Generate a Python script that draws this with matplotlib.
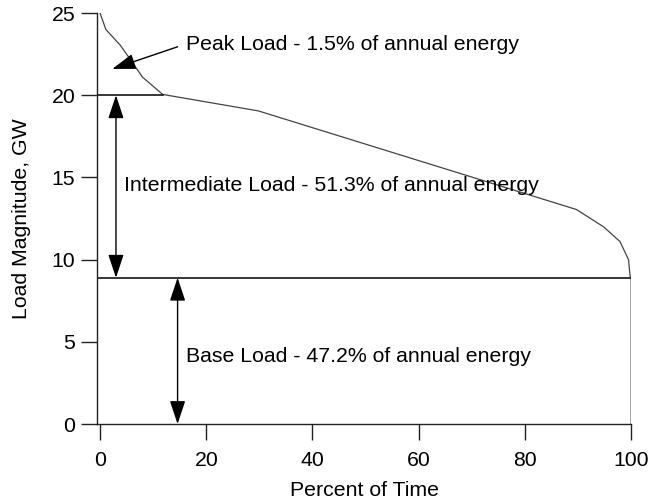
import matplotlib
matplotlib.use("Agg")
import matplotlib.pyplot as plt

plt.rcParams['font.family'] = ['Liberation Sans', 'DejaVu Sans']

# load duration curve
pct_time = [0, 1.1, 3.8, 5.0, 8.0, 11.8, 29.8, 89.7, 94.8, 97.9, 99.5, 99.8, 100, 100]
load_gw = [25, 24.0, 23.05, 22.5, 21.1, 20.05, 19.05, 13.05, 12.0, 11.1, 10.0, 9.0, 8.9, 0]

peak_level = 20.0
base_level = 8.9
peak_end = 11.8

labels = ['Peak Load - 1.5% of annual energy',
          'Intermediate Load - 51.3% of annual energy',
          'Base Load - 47.2% of annual energy']

fs = 15.3

fig = plt.figure(figsize=(6.5, 5.03), dpi=100)
ax = fig.add_axes([0.149, 0.157, 0.822, 0.817])

ax.plot(pct_time, load_gw, color='#444444', lw=0.9)
ax.plot([-0.6, peak_end], [peak_level, peak_level], color='black', lw=1.1)
ax.plot([-0.6, 100], [base_level, base_level], color='black', lw=1.1)

ax.set_xlim(-0.6, 100)
ax.set_ylim(0, 25)
ax.set_xticks([0, 20, 40, 60, 80, 100])
ax.set_yticks([0, 5, 10, 15, 20, 25])
ax.spines['top'].set_visible(False)
ax.spines['right'].set_visible(False)
for s in ['left', 'bottom']:
    ax.spines[s].set_linewidth(1.0)
    ax.spines[s].set_color('#222222')
ax.tick_params(direction='out', length=11.5, width=1.0, labelsize=fs, color='#222222', pad=4)
ax.tick_params(axis='x', pad=8)

ax.set_xlabel('Percent of Time', fontsize=fs, labelpad=8)
ax.set_ylabel('Load Magnitude, GW', fontsize=fs, labelpad=15)

head = dict(color='black', lw=1.0, shrinkA=0, shrinkB=0, mutation_scale=16)

# peak arrow
ax.annotate('', xy=(2.3, 21.6), xytext=(14.6, 22.95),
            arrowprops=dict(arrowstyle='-|>,head_length=0.9,head_width=0.3', **head))
# intermediate double arrow
ax.annotate('', xy=(3.0, peak_level), xytext=(3.0, base_level),
            arrowprops=dict(arrowstyle='<|-|>,head_length=0.9,head_width=0.3', **head))
# base double arrow
ax.annotate('', xy=(14.6, base_level), xytext=(14.6, 0),
            arrowprops=dict(arrowstyle='<|-|>,head_length=0.9,head_width=0.3', **head))

ax.text(16.2, 23.1, labels[0], fontsize=fs, va='center', ha='left')
ax.text(4.5, 14.5, labels[1], fontsize=fs, va='center', ha='left')
ax.text(16.2, 4.1, labels[2], fontsize=fs, va='center', ha='left')

fig.savefig('out.png', dpi=100)
